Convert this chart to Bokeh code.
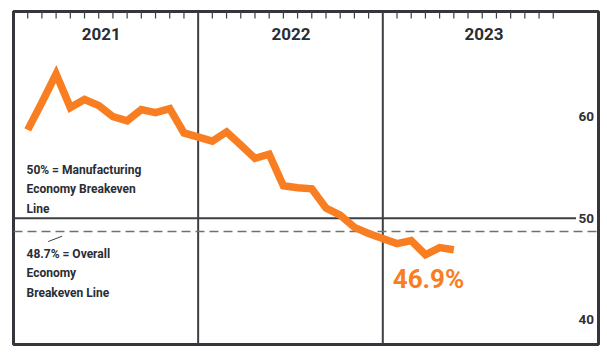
from bokeh.plotting import figure
from bokeh.models import Range1d
from bokeh.embed import file_html
from bokeh.resources import INLINE
from bokeh.core.properties import value

# ---- data ----
years = ["2021", "2022", "2023"]
pmi_2021 = [58.7, 61.4, 64.2, 60.9, 61.7, 61.1, 60.0, 59.6, 60.7, 60.4, 60.8, 58.4]
pmi_2022 = [57.6, 58.5, 57.2, 55.9, 56.3, 53.2, 53.0, 52.9, 51.0, 50.3, 49.1, 48.5]
pmi_2023 = [47.5, 47.8, 46.4, 47.1, 46.9]
y_ticks = [40, 50, 60]
mfg_breakeven = 50
overall_breakeven = 48.7
latest_label = "46.9%"
mfg_note = ["50% = Manufacturing", "Economy Breakeven", "Line"]
overall_note = ["48.7% = Overall", "Economy", "Breakeven Line"]

# ---- layout constants ----
SLOTS = 13            # month slots per year panel (12 months + boundary)
PX_X = 14.204         # px per month slot
PX_Y = 10.15          # px per index point
FRAME_W, FRAME_H = 585, 333
X_MAX = FRAME_W / PX_X
Y_TOP = mfg_breakeven + 206.7 / PX_Y
Y_BOT = Y_TOP - FRAME_H / PX_Y

ORANGE = "#F97D21"
DARK = "#2a2d34"
FONT = value("Roboto")

series = [pmi_2021, pmi_2022, pmi_2023]
xs, ys = [], []
for yi, vals in enumerate(series):
    for mi, v in enumerate(vals):
        xs.append(yi * SLOTS + mi + 1)
        ys.append(v)

p = figure(width=600, height=348, output_backend="svg", toolbar_location=None,
           x_range=Range1d(0, X_MAX), y_range=Range1d(Y_BOT, Y_TOP),
           x_axis_type=None, y_axis_type=None)
p.min_border_left = 13
p.min_border_top = 11
p.min_border_right = 2
p.min_border_bottom = 4
p.xgrid.visible = False
p.ygrid.visible = False
p.outline_line_color = "#34363b"
p.outline_line_width = 3
p.background_fill_color = "white"
p.border_fill_color = "white"

# year separators
sep_x = [SLOTS * i for i in range(1, len(years))]
p.segment(x0=sep_x, y0=[Y_BOT] * len(sep_x), x1=sep_x, y1=[Y_TOP] * len(sep_x),
          line_color="#3d3f44", line_width=2)

# month ticks at top
tick_x = [yi * SLOTS + m for yi in range(len(years)) for m in range(1, 13)]
tick_len = 7 / PX_Y
p.segment(x0=tick_x, y0=[Y_TOP] * len(tick_x), x1=tick_x, y1=[Y_TOP - tick_len] * len(tick_x),
          line_color="#3d3f44", line_width=1.2)

# year labels
year_x = [6.17, 19.54, 33.13]
p.text(x=year_x, y=[Y_TOP - 22 / PX_Y] * 3, text=years, text_align="center",
       text_baseline="middle", text_font=FONT,
       text_font_style="bold", text_font_size="17px", text_color=DARK)

# breakeven lines
label_gap_x = X_MAX - 22.5 / PX_X
p.segment(x0=[0], y0=[mfg_breakeven], x1=[label_gap_x], y1=[mfg_breakeven],
          line_color="#3d3f44", line_width=2)
p.segment(x0=[0], y0=[overall_breakeven], x1=[X_MAX], y1=[overall_breakeven],
          line_color="#707070", line_width=1.5, line_dash="9 5")

# y tick labels (inside, right)
p.text(x=[X_MAX - 4.5 / PX_X] * len(y_ticks), y=y_ticks, text=[str(t) for t in y_ticks],
       text_align="right", text_baseline="middle",
       text_font=FONT, text_font_size="13.5px", text_font_style="bold",
       text_color="#2f3136")

# PMI line
p.line(xs, ys, line_color=ORANGE, line_width=7.5, line_join="miter", line_cap="butt")

# latest value label
p.text(x=[xs[-1] - 4.3], y=[ys[-1] - 2.85], text=[latest_label], text_align="left",
       text_baseline="middle", text_font=FONT,
       text_font_style="bold", text_font_size="26px", text_color=ORANGE)

# notes
note_x = 13 / PX_X
line_h = 19.6 / PX_Y
mfg_y0 = mfg_breakeven + (217.7 - 169.3) / PX_Y
p.text(x=[note_x] * len(mfg_note), y=[mfg_y0 - i * line_h for i in range(len(mfg_note))],
       text=mfg_note, text_align="left", text_baseline="middle",
       text_font=FONT, text_font_style="bold",
       text_font_size="12px", text_color=DARK)
ov_y0 = mfg_breakeven - (253.3 - 217.7) / PX_Y
p.text(x=[note_x] * len(overall_note), y=[ov_y0 - i * line_h for i in range(len(overall_note))],
       text=overall_note, text_align="left", text_baseline="middle",
       text_font=FONT, text_font_style="bold",
       text_font_size="12px", text_color=DARK)

# leader line from note to dashed line
p.segment(x0=[34.7 / PX_X], y0=[overall_breakeven - 1.0], x1=[48.7 / PX_X],
          y1=[overall_breakeven - 0.47], line_color="#3d3f44", line_width=1)

open("out.html", "w").write(file_html(p, INLINE))
